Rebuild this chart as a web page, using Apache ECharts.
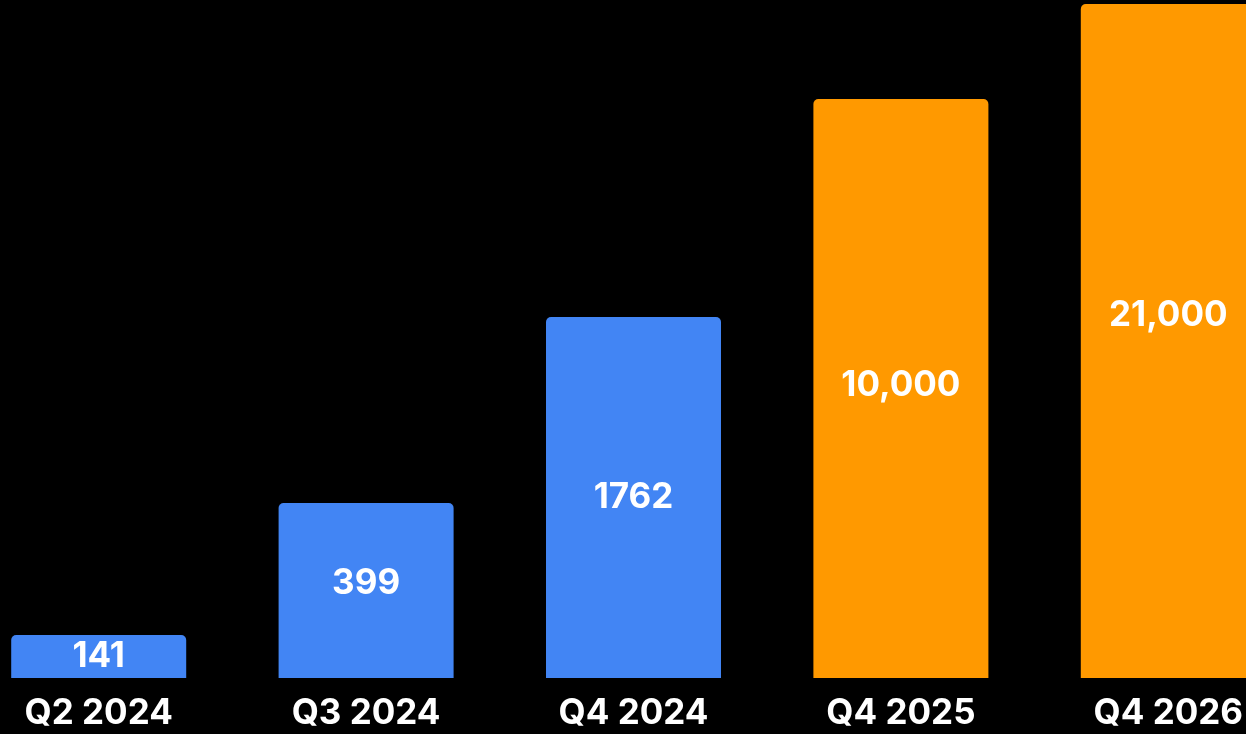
<!DOCTYPE html>
<html>
<head>
<meta charset="utf-8">
<script src="https://cdn.jsdelivr.net/npm/echarts@6/dist/echarts.min.js"></script>
<style>
html,body{margin:0;padding:0;background:#000;}
#c{width:1246px;height:734px;}
</style>
</head>
<body>
<div id="c"></div>
<script>
// Categories (x axis labels)
const categories = ['Q2 2024', 'Q3 2024', 'Q4 2024', 'Q4 2025', 'Q4 2026'];
// Values printed on the bars
const valueLabels = ['141', '399', '1762', '10,000', '21,000'];
// Bar heights as drawn in the picture (stylised, non-linear scale)
const barHeights = [43, 175, 361, 579, 674];
// Colours per bar (actual vs projected)
const barColors = ['#4285F4', '#4285F4', '#4285F4', '#FF9900', '#FF9900'];
// Vertical label offsets within each bar
const labelOffsets = [0, -7, 0, -3, -26];

const chart = echarts.init(document.getElementById('c'));
chart.setOption({
  backgroundColor: '#000000',
  animation: false,
  grid: { left: -35, width: 1337, top: 0, bottom: 56, containLabel: false, outerBoundsMode: 'none' },
  xAxis: {
    type: 'category',
    data: categories,
    axisLine: { show: false },
    axisTick: { show: false },
    axisLabel: {
      color: '#ffffff',
      fontFamily: 'Inter',
      fontWeight: 'bold',
      fontSize: 35,
      margin: 18
    }
  },
  yAxis: {
    type: 'value',
    min: 0,
    max: 678,
    show: false,
    splitLine: { show: false }
  },
  series: [{
    type: 'bar',
    barWidth: 175,
    data: barHeights.map((h, i) => ({
      value: h,
      itemStyle: { color: barColors[i], borderRadius: [5, 5, 0, 0] },
      label: { offset: [0, labelOffsets[i]] }
    })),
    label: {
      show: true,
      position: 'inside',
      color: '#ffffff',
      fontFamily: 'Inter',
      fontWeight: 'bold',
      fontSize: 35,
      formatter: p => valueLabels[p.dataIndex]
    }
  }]
});
</script>
</body>
</html>
